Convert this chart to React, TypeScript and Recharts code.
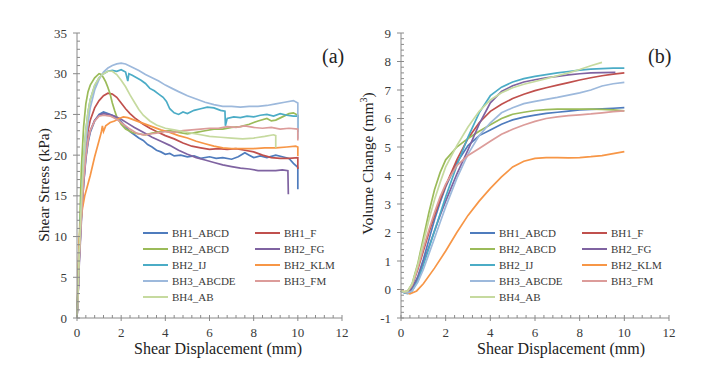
import React from "react";
import { LineChart, Line, XAxis, YAxis, Legend } from "recharts";

type Pair = [number, number];

const seriesNames = [
  "BH1_ABCD",
  "BH1_F",
  "BH2_ABCD",
  "BH2_FG",
  "BH2_IJ",
  "BH2_KLM",
  "BH3_ABCDE",
  "BH3_FM",
  "BH4_AB",
];
const seriesColors = [
  "#4f7cbd",
  "#c0504d",
  "#9bbb59",
  "#7f63a1",
  "#4bacc6",
  "#f79646",
  "#9db9dc",
  "#dc9c9a",
  "#c6da9f",
];

// tick positions (minor + major)
const xTicks = [
  0, 0.4, 0.8, 1.2, 1.6, 2, 2.4, 2.8, 3.2, 3.6, 4, 4.4, 4.8, 5.2, 5.6, 6, 6.4,
  6.8, 7.2, 7.6, 8, 8.4, 8.8, 9.2, 9.6, 10, 10.4, 10.8, 11.2, 11.6, 12,
];
const xMajor = [0, 2, 4, 6, 8, 10, 12];
const stressTicks = [
  0, 1, 2, 3, 4, 5, 6, 7, 8, 9, 10, 11, 12, 13, 14, 15, 16, 17, 18, 19, 20, 21,
  22, 23, 24, 25, 26, 27, 28, 29, 30, 31, 32, 33, 34, 35,
];
const stressMajor = [0, 5, 10, 15, 20, 25, 30, 35];
const volumeTicks = [
  -1, -0.8, -0.6, -0.4, -0.2, 0, 0.2, 0.4, 0.6, 0.8, 1, 1.2, 1.4, 1.6, 1.8, 2,
  2.2, 2.4, 2.6, 2.8, 3, 3.2, 3.4, 3.6, 3.8, 4, 4.2, 4.4, 4.6, 4.8, 5, 5.2, 5.4,
  5.6, 5.8, 6, 6.2, 6.4, 6.6, 6.8, 7, 7.2, 7.4, 7.6, 7.8, 8, 8.2, 8.4, 8.6, 8.8,
  9,
];
const volumeMajor = [-1, 0, 1, 2, 3, 4, 5, 6, 7, 8, 9];

// (a) shear stress (kPa) vs shear displacement (mm)
const stressBH1ABCD: Pair[] = [
  [0, 0], [0.05, 3], [0.1, 7], [0.2, 12.5], [0.3, 16.5], [0.4, 19.5], [0.5, 21.5],
  [0.6, 22.8], [0.8, 24.2], [1.0, 25.0], [1.2, 25.3], [1.4, 25.1], [1.6, 24.9],
  [1.8, 24.5], [2.0, 24.1], [2.2, 23.5], [2.4, 22.9], [2.6, 22.5], [2.8, 22.1],
  [3.0, 21.8], [3.2, 21.3], [3.4, 21.0], [3.6, 20.6], [3.8, 20.4], [4.0, 20.1],
  [4.2, 20.2], [4.4, 19.9], [4.7, 20.0], [5.0, 19.8], [5.3, 19.9], [5.6, 19.6],
  [6.0, 19.8], [6.3, 19.6], [6.6, 19.7], [7.0, 19.5], [7.3, 19.8], [7.6, 20.3],
  [7.8, 20.0], [8.0, 19.7], [8.3, 19.9], [8.6, 19.7], [9.0, 20.0], [9.3, 19.8],
  [9.6, 19.6], [9.8, 19.0], [10.0, 18.5], [10.0, 15.8],
];
const stressBH1F: Pair[] = [
  [0, 0], [0.05, 3], [0.1, 7.5], [0.2, 13.5], [0.3, 18], [0.4, 21], [0.5, 23],
  [0.6, 24.3], [0.8, 25.8], [1.0, 26.7], [1.2, 27.3], [1.4, 27.6], [1.6, 27.5],
  [1.8, 27.1], [2.0, 26.4], [2.2, 25.7], [2.4, 25.1], [2.6, 24.6], [2.8, 24.2],
  [3.0, 23.8], [3.3, 23.3], [3.6, 22.9], [4.0, 22.4], [4.4, 22.0], [4.8, 21.5],
  [5.2, 21.1], [5.6, 20.9], [6.0, 20.7], [6.4, 20.8], [6.8, 20.7], [7.2, 20.8],
  [7.6, 20.6], [8.0, 20.4], [8.4, 20.0], [8.8, 19.7], [9.2, 19.6], [9.6, 19.6],
  [10.0, 19.7], [10.0, 18.3],
];
const stressBH2ABCD: Pair[] = [
  [0, 0], [0.05, 4], [0.1, 9], [0.15, 14], [0.2, 18.5], [0.3, 23.5], [0.4, 26.3],
  [0.5, 27.8], [0.6, 28.6], [0.8, 29.5], [1.0, 30.0], [1.1, 29.9], [1.2, 29.5],
  [1.3, 29.0], [1.4, 28.3], [1.5, 27.5], [1.6, 26.4], [1.7, 25.5], [1.8, 24.7],
  [2.0, 23.8], [2.2, 23.2], [2.5, 22.8], [2.8, 22.6], [3.1, 22.5], [3.4, 22.7],
  [3.8, 22.9], [4.2, 23.0], [4.6, 22.8], [5.0, 22.6], [5.4, 22.8], [5.8, 23.0],
  [6.2, 23.2], [6.6, 23.2], [7.0, 23.4], [7.4, 23.5], [7.8, 23.8], [8.2, 24.2],
  [8.6, 24.5], [8.8, 24.2], [9.0, 24.3], [9.3, 24.7], [9.6, 25.1], [9.8, 25.2],
  [10.0, 24.9], [10.0, 24.5],
];
const stressBH2FG: Pair[] = [
  [0, 0], [0.05, 3], [0.1, 6.5], [0.2, 12], [0.3, 16.5], [0.4, 19.8], [0.5, 21.8],
  [0.6, 23.0], [0.8, 24.3], [1.0, 24.9], [1.2, 25.1], [1.4, 25.0], [1.7, 24.8],
  [2.0, 24.4], [2.3, 23.9], [2.6, 23.4], [3.0, 22.8], [3.4, 22.2], [3.8, 21.7],
  [4.2, 21.2], [4.6, 20.6], [5.0, 20.1], [5.4, 19.7], [5.8, 19.4], [6.2, 19.1],
  [6.6, 18.8], [7.0, 18.6], [7.4, 18.4], [7.8, 18.3], [8.2, 18.1], [8.6, 18.1],
  [9.0, 18.1], [9.3, 18.2], [9.55, 18.1], [9.57, 15.2],
];
const stressBH2IJ: Pair[] = [
  [0, 0], [0.05, 4], [0.1, 8.5], [0.2, 14.5], [0.3, 19.5], [0.4, 23], [0.5, 25.3],
  [0.6, 26.8], [0.8, 28.5], [1.0, 29.5], [1.2, 30.0], [1.4, 30.3], [1.6, 30.4],
  [1.8, 30.3], [2.0, 30.5], [2.2, 30.2], [2.3, 29.1], [2.35, 30.0], [2.5, 29.8],
  [2.7, 29.5], [2.9, 29.2], [3.1, 28.8], [3.3, 28.2], [3.5, 27.9], [3.7, 27.5],
  [3.9, 27.1], [4.05, 26.6], [4.2, 25.7], [4.4, 25.2], [4.6, 25.0], [4.8, 25.3],
  [5.0, 25.1], [5.3, 25.5], [5.6, 25.7], [5.9, 25.9], [6.2, 25.8], [6.5, 25.5],
  [6.7, 25.4], [6.72, 23.6], [6.8, 24.5], [7.1, 24.7], [7.4, 24.6], [7.7, 24.8],
  [8.0, 24.7], [8.3, 24.9], [8.6, 25.0], [8.9, 24.8], [9.2, 25.1], [9.5, 24.9],
  [9.8, 24.8], [10.0, 24.8], [10.0, 22.8],
];
const stressBH2KLM: Pair[] = [
  [0, 0], [0.03, 3], [0.06, 6.5], [0.1, 9.5], [0.15, 11.5], [0.25, 13.5],
  [0.35, 15], [0.45, 16], [0.6, 17.5], [0.8, 19.8], [1.0, 21.8], [1.1, 22.8],
  [1.15, 23.6], [1.2, 22.9], [1.3, 23.6], [1.5, 24.0], [1.7, 24.2], [1.9, 24.5],
  [2.1, 24.7], [2.3, 24.6], [2.6, 24.3], [3.0, 23.9], [3.4, 23.5], [3.8, 23.1],
  [4.2, 22.8], [4.6, 22.4], [5.0, 22.1], [5.4, 21.7], [5.8, 21.4], [6.2, 21.1],
  [6.6, 20.9], [7.0, 20.8], [7.5, 20.8], [8.0, 20.8], [8.5, 20.9], [9.0, 20.9],
  [9.5, 21.0], [9.9, 21.1], [10.0, 21.0], [10.0, 19.9],
];
const stressBH3ABCDE: Pair[] = [
  [0, 0], [0.05, 3.5], [0.1, 7.5], [0.2, 13], [0.3, 18], [0.4, 21.5], [0.5, 24],
  [0.6, 25.8], [0.8, 28], [1.0, 29.3], [1.2, 30.2], [1.4, 30.7], [1.6, 31.0],
  [1.8, 31.2], [2.0, 31.3], [2.2, 31.2], [2.5, 30.8], [2.8, 30.4], [3.1, 29.9],
  [3.4, 29.5], [3.7, 29.1], [4.0, 28.6], [4.3, 28.2], [4.6, 27.8], [5.0, 27.3],
  [5.4, 26.9], [5.8, 26.5], [6.2, 26.2], [6.6, 26.0], [7.0, 26.0], [7.4, 25.9],
  [7.8, 26.0], [8.2, 26.0], [8.6, 26.1], [9.0, 26.3], [9.4, 26.5], [9.8, 26.7],
  [10.0, 26.4], [10.0, 22.0],
];
const stressBH3FM: Pair[] = [
  [0, 0], [0.05, 3], [0.1, 7], [0.2, 12.5], [0.3, 16.8], [0.4, 19.8], [0.5, 21.8],
  [0.6, 23.0], [0.8, 24.2], [1.0, 24.8], [1.2, 24.9], [1.5, 24.8], [1.8, 24.4],
  [2.1, 23.8], [2.4, 23.2], [2.7, 22.7], [3.0, 22.5], [3.3, 22.6], [3.6, 22.7],
  [4.0, 22.9], [4.4, 22.8], [4.8, 23.0], [5.2, 23.1], [5.6, 23.2], [6.0, 23.3],
  [6.4, 23.3], [6.8, 23.5], [7.2, 23.4], [7.6, 23.6], [8.0, 23.4], [8.4, 23.3],
  [8.8, 23.4], [9.2, 23.2], [9.6, 23.3], [10.0, 23.2], [10.0, 21.8],
];
const stressBH4AB: Pair[] = [
  [0, 0], [0.05, 3.5], [0.1, 8], [0.2, 14.5], [0.3, 19.5], [0.4, 23], [0.5, 25.3],
  [0.6, 26.8], [0.8, 28.6], [1.0, 29.5], [1.2, 30.0], [1.4, 30.3], [1.6, 30.3],
  [1.8, 29.9], [2.0, 29.2], [2.2, 28.4], [2.4, 27.4], [2.6, 26.5], [2.8, 25.6],
  [3.0, 24.9], [3.3, 24.2], [3.6, 23.7], [4.0, 23.3], [4.4, 23.1], [4.8, 22.9],
  [5.2, 22.7], [5.6, 22.5], [6.0, 22.3], [6.5, 22.2], [7.0, 22.1], [7.5, 22.0],
  [8.0, 22.1], [8.5, 22.3], [8.9, 22.5], [9.0, 22.4], [9.0, 20.9],
];

// (b) volume change (mm3) vs shear displacement (mm)
const volumeBH1ABCD: Pair[] = [
  [0, -0.05], [0.15, -0.1], [0.3, -0.12], [0.5, 0.05], [0.75, 0.45], [1, 1.05],
  [1.25, 1.75], [1.5, 2.45], [1.75, 3.05], [2, 3.6], [2.5, 4.45], [3, 5.05],
  [3.5, 5.4], [4, 5.6], [4.5, 5.8], [5, 5.95], [5.5, 6.05], [6, 6.12], [6.5, 6.18],
  [7, 6.22], [7.5, 6.26], [8, 6.3], [8.5, 6.32], [9, 6.34], [9.5, 6.36], [10, 6.38],
];
const volumeBH1F: Pair[] = [
  [0, -0.05], [0.15, -0.1], [0.3, -0.1], [0.5, 0.15], [0.75, 0.7], [1, 1.35],
  [1.25, 2.0], [1.5, 2.6], [1.75, 3.15], [2, 3.65], [2.5, 4.55], [3, 5.3],
  [3.5, 5.85], [4, 6.25], [4.5, 6.5], [5, 6.7], [5.5, 6.85], [6, 6.98], [6.5, 7.08],
  [7, 7.17], [7.5, 7.26], [8, 7.35], [8.5, 7.43], [9, 7.5], [9.5, 7.56], [10, 7.6],
];
const volumeBH2ABCD: Pair[] = [
  [0, -0.05], [0.15, -0.08], [0.3, -0.05], [0.5, 0.2], [0.75, 0.9], [1, 1.8],
  [1.25, 2.7], [1.5, 3.5], [1.75, 4.1], [2, 4.55], [2.5, 5.0], [3, 5.3],
  [3.5, 5.55], [4, 5.78], [4.5, 6.0], [5, 6.15], [5.5, 6.22], [6, 6.28],
  [6.5, 6.31], [7, 6.33], [7.5, 6.33], [8, 6.33], [8.5, 6.33], [9, 6.32],
  [9.5, 6.3], [10, 6.27],
];
const volumeBH2FG: Pair[] = [
  [0, -0.05], [0.15, -0.1], [0.3, -0.12], [0.5, 0], [0.75, 0.4], [1, 0.95],
  [1.25, 1.5], [1.5, 2.05], [1.75, 2.6], [2, 3.1], [2.5, 4.05], [3, 4.9],
  [3.5, 5.8], [4, 6.55], [4.5, 6.95], [5, 7.15], [5.5, 7.28], [6, 7.36],
  [6.5, 7.43], [7, 7.48], [7.5, 7.53], [8, 7.57], [8.5, 7.6], [9, 7.61], [9.6, 7.62],
];
const volumeBH2IJ: Pair[] = [
  [0, -0.05], [0.15, -0.12], [0.3, -0.14], [0.5, -0.05], [0.75, 0.3], [1, 0.85],
  [1.25, 1.45], [1.5, 2.05], [1.75, 2.65], [2, 3.25], [2.5, 4.35], [3, 5.35],
  [3.5, 6.2], [4, 6.8], [4.5, 7.1], [5, 7.28], [5.5, 7.4], [6, 7.48], [6.5, 7.54],
  [7, 7.6], [7.5, 7.65], [8, 7.7], [8.5, 7.73], [9, 7.75], [9.5, 7.77], [10, 7.77],
];
const volumeBH2KLM: Pair[] = [
  [0, -0.03], [0.2, -0.1], [0.4, -0.15], [0.7, -0.05], [1, 0.2], [1.5, 0.75],
  [2, 1.35], [2.5, 2.0], [3, 2.6], [3.5, 3.1], [4, 3.55], [4.5, 3.95], [5, 4.3],
  [5.5, 4.5], [6, 4.6], [6.5, 4.63], [7, 4.63], [7.5, 4.62], [8, 4.63], [8.5, 4.66],
  [9, 4.7], [9.5, 4.77], [10, 4.84],
];
const volumeBH3ABCDE: Pair[] = [
  [0, -0.05], [0.15, -0.1], [0.3, -0.12], [0.5, -0.05], [0.75, 0.25], [1, 0.7],
  [1.25, 1.25], [1.5, 1.8], [1.75, 2.35], [2, 2.9], [2.5, 3.9], [3, 4.75],
  [3.5, 5.4], [4, 5.85], [4.5, 6.2], [5, 6.38], [5.5, 6.52], [6, 6.6], [6.5, 6.67],
  [7, 6.74], [7.5, 6.82], [8, 6.9], [8.5, 7.0], [9, 7.14], [9.5, 7.22], [10, 7.27],
];
const volumeBH3FM: Pair[] = [
  [0, -0.05], [0.15, -0.08], [0.3, -0.06], [0.5, 0.15], [0.75, 0.75], [1, 1.45],
  [1.25, 2.1], [1.5, 2.7], [1.75, 3.25], [2, 3.7], [2.5, 4.35], [3, 4.7],
  [3.5, 4.95], [4, 5.2], [4.5, 5.45], [5, 5.62], [5.5, 5.77], [6, 5.9], [6.5, 6.0],
  [7, 6.06], [7.5, 6.1], [8, 6.13], [8.5, 6.16], [9, 6.2], [9.5, 6.24], [10, 6.27],
];
const volumeBH4AB: Pair[] = [
  [0, -0.05], [0.15, -0.08], [0.3, -0.05], [0.5, 0.2], [0.75, 0.85], [1, 1.65],
  [1.25, 2.45], [1.5, 3.15], [1.75, 3.75], [2, 4.3], [2.5, 5.05], [3, 5.7],
  [3.5, 6.25], [4, 6.65], [4.5, 6.9], [5, 7.08], [5.5, 7.2], [6, 7.3], [6.5, 7.4],
  [7, 7.5], [7.5, 7.6], [8, 7.72], [8.5, 7.85], [9, 7.97],
];

const stressSeries = [
  stressBH1ABCD, stressBH1F, stressBH2ABCD, stressBH2FG, stressBH2IJ,
  stressBH2KLM, stressBH3ABCDE, stressBH3FM, stressBH4AB,
];
const volumeSeries = [
  volumeBH1ABCD, volumeBH1F, volumeBH2ABCD, volumeBH2FG, volumeBH2IJ,
  volumeBH2KLM, volumeBH3ABCDE, volumeBH3FM, volumeBH4AB,
];

const FONT = '"Liberation Serif", "Times New Roman", serif';
const AXIS = "#8a8a8a";
const TEXT = "#3a3a3a";

const toPoints = (pairs: Pair[]) => pairs.map(([x, y]) => ({ x, y }));
const isMajor = (v: number, majors: number[]) =>
  majors.some((m) => Math.abs(m - v) < 1e-6);

function XTick(props: any) {
  const { x, y, payload } = props;
  const major = isMajor(payload.value, xMajor);
  return (
    <g>
      <line x1={x} x2={x} y1={y - 3} y2={major ? y + 3 : y} stroke={AXIS} />
      {major && (
        <text
          x={x}
          y={y + 19}
          textAnchor="middle"
          fontFamily={FONT}
          fontSize={13}
          fill={TEXT}
        >
          {payload.value}
        </text>
      )}
    </g>
  );
}

function YTick(props: any) {
  const { x, y, payload, majors } = props;
  const major = isMajor(payload.value, majors);
  return (
    <g>
      <line x1={major ? x - 4 : x} x2={x + 3} y1={y} y2={y} stroke={AXIS} />
      {major && (
        <text
          x={x - 10}
          y={y + 4.5}
          textAnchor="end"
          fontFamily={FONT}
          fontSize={13}
          fill={TEXT}
        >
          {payload.value}
        </text>
      )}
    </g>
  );
}

function LegendBox(props: any) {
  const { payload } = props;
  return (
    <div
      style={{
        display: "grid",
        gridTemplateColumns: "112px 112px",
        fontFamily: FONT,
        fontSize: 11,
        color: TEXT,
      }}
    >
      {(payload || []).map((p: any) => (
        <div
          key={p.value}
          style={{ display: "flex", alignItems: "center", height: 16 }}
        >
          <div
            style={{ width: 25, height: 2, background: p.color, marginRight: 4 }}
          />
          <span>{p.value}</span>
        </div>
      ))}
    </div>
  );
}

type PanelProps = {
  series: Pair[][];
  width: number;
  yWidth: number;
  right: number;
  domain: [number, number];
  ticks: number[];
  majors: number[];
  legendLeft: number;
  xTitleShift: number;
  yTitleX: number;
  yTitleShift: number;
  yTitle: React.ReactNode;
};

function Panel(p: PanelProps) {
  return (
    <LineChart
      width={p.width}
      height={382}
      margin={{ top: 33, right: p.right, bottom: 0, left: 0 }}
    >
      <XAxis
        type="number"
        dataKey="x"
        domain={[0, 12]}
        ticks={xTicks}
        interval={0}
        height={64}
        tickSize={0}
        tickMargin={0}
        tickLine={false}
        axisLine={{ stroke: AXIS }}
        tick={(t: any) => <XTick {...t} />}
        label={(l: any) => (
          <text
            x={l.viewBox.x + l.viewBox.width / 2 + p.xTitleShift}
            y={l.viewBox.y + 36}
            textAnchor="middle"
            fontFamily={FONT}
            fontSize={16}
            fill="#222"
          >
            Shear Displacement (mm)
          </text>
        )}
      />
      <YAxis
        type="number"
        domain={p.domain}
        ticks={p.ticks}
        interval={0}
        width={p.yWidth}
        tickSize={0}
        tickMargin={0}
        tickLine={false}
        axisLine={{ stroke: AXIS }}
        tick={(t: any) => <YTick {...t} majors={p.majors} />}
        label={(l: any) => (
          <text
            transform={`translate(${p.yTitleX},${
              l.viewBox.y + l.viewBox.height / 2 + p.yTitleShift
            }) rotate(-90)`}
            textAnchor="middle"
            fontFamily={FONT}
            fontSize={15.5}
            fill="#222"
          >
            {p.yTitle}
          </text>
        )}
      />
      <Legend
        layout="horizontal"
        verticalAlign="middle"
        align="center"
        content={<LegendBox />}
        wrapperStyle={{ left: p.legendLeft, top: 224.5, width: 230 }}
      />
      {p.series.map((s, i) => (
        <Line
          key={seriesNames[i]}
          data={toPoints(s)}
          dataKey="y"
          name={seriesNames[i]}
          type="linear"
          stroke={seriesColors[i]}
          strokeWidth={1.7}
          dot={false}
          activeDot={false}
          isAnimationActive={false}
        />
      ))}
    </LineChart>
  );
}

export default function App() {
  const tag: React.CSSProperties = {
    position: "absolute",
    top: 45,
    fontFamily: FONT,
    fontSize: 20,
    color: "#222",
    lineHeight: "23px",
  };
  return (
    <div
      style={{
        position: "absolute",
        left: 0,
        top: 0,
        width: 711,
        height: 382,
        background: "#fff",
      }}
    >
      <div style={{ position: "absolute", left: 0, top: 0 }}>
        <Panel
          series={stressSeries}
          width={355}
          yWidth={77}
          right={13}
          domain={[0, 35]}
          ticks={stressTicks}
          majors={stressMajor}
          legendLeft={143}
          xTitleShift={8.5}
          yTitleX={49}
          yTitleShift={9.5}
          yTitle="Shear Stress (kPa)"
        />
      </div>
      <div style={{ position: "absolute", left: 355, top: 0 }}>
        <Panel
          series={volumeSeries}
          width={356}
          yWidth={46}
          right={42}
          domain={[-1, 9]}
          ticks={volumeTicks}
          majors={volumeMajor}
          legendLeft={115}
          xTitleShift={26}
          yTitleX={18}
          yTitleShift={-12}
          yTitle={
            <>
              Volume Change (mm
              <tspan dy={-6} fontSize={10}>
                3
              </tspan>
              <tspan dy={6}>)</tspan>
            </>
          }
        />
      </div>
      <div style={{ ...tag, left: 322 }}>(a)</div>
      <div style={{ ...tag, left: 648 }}>(b)</div>
    </div>
  );
}
